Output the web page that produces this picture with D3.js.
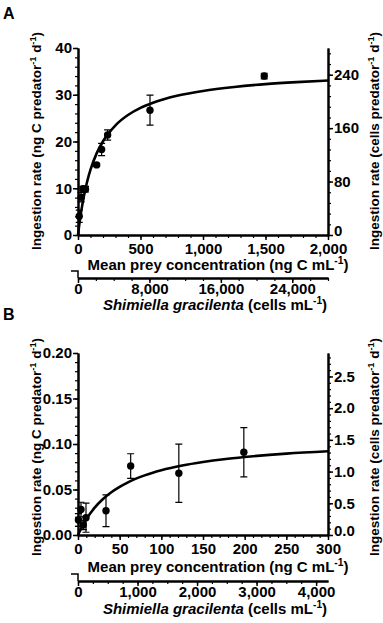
<!DOCTYPE html>
<html><head><meta charset="utf-8">
<script src="https://cdn.jsdelivr.net/npm/d3@7"></script>
<style>
html,body{margin:0;padding:0;background:#fff;}
svg{display:block;font-family:"Liberation Sans",Arial,sans-serif;}
</style></head>
<body><svg id="c" width="383" height="623"></svg>
<script>
// ---------- Panel A data ----------
const aConc = [10, 25, 40, 60, 149, 189, 237, 576, 1490];          // ng C mL-1
const aRate = [4.0, 8.1, 9.9, 9.8, 15.0, 18.3, 21.4, 26.7, 34.0];   // ng C predator-1 d-1
const aErr  = [1.3, 1.0, 0.5, 0.6, 0.3, 1.3, 1.1, 3.2, 0.6];
const aFitX = [0, 10, 25, 50, 75, 100, 150, 200, 300, 400, 500, 600, 800, 1000, 1250, 1500, 1750, 2000];
const aFitY = [0, 2.16, 4.94, 8.68, 11.61, 13.96, 17.51, 20.06, 23.47, 25.66, 27.18, 28.29, 29.82, 30.82, 31.67, 32.27, 32.70, 33.04];
const aXTicks = [0, 500, 1000, 1500, 2000];
const aYTicks = [0, 10, 20, 30, 40];
const aYRTicks = [0, 80, 160, 240];
const aX2Ticks = [0, 8000, 16000, 24000];

// ---------- Panel B data ----------
const bConc = [0.5, 3.6, 6.4, 9.6, 33.6, 63.2, 121, 199];
const bRate = [0.0165, 0.028, 0.011, 0.019, 0.0267, 0.0758, 0.0678, 0.0909];
const bErr  = [0.007, 0.008, 0.005, 0.016, 0.0175, 0.0135, 0.032, 0.027];
const bFitX = [0, 5, 10, 20, 30, 40, 50, 60, 80, 100, 125, 150, 175, 200, 250, 300];
const bFitY = [0, 0.0095, 0.0174, 0.030, 0.0395, 0.047, 0.0529, 0.0579, 0.0655, 0.0711, 0.0763, 0.0802, 0.0833, 0.0857, 0.0894, 0.0920];
const bXTicks = [0, 50, 100, 150, 200, 250, 300];
const bYTicks = [0, 0.05, 0.10, 0.15, 0.20];
const bYRTicks = [0, 0.5, 1.0, 1.5, 2.0, 2.5];
const bX2Ticks = [0, 1000, 2000, 3000, 4000];

const svg = d3.select("#c");
const fmtComma = d3.format(",");
const TICK_FS = 15;

function richText(g, x, y, parts, opts) {
  const t = g.append("text").attr("x", x).attr("y", y)
    .attr("text-anchor", "middle").attr("font-weight", "bold")
    .attr("font-size", opts.size).attr("fill", "#000");
  if (opts.rotate) t.attr("transform", `rotate(${opts.rotate},${x},${y})`);
  let shift = 0;
  parts.forEach(p => {
    const s = t.append("tspan").text(p.t);
    if (p.sup) { s.attr("font-size", opts.size * 0.68).attr("dy", -opts.size * 0.38); shift = opts.size * 0.38; }
    else { if (shift) { s.attr("dy", shift); shift = 0; } }
    if (p.it) s.attr("font-style", "italic");
  });
  return t;
}

function styleAxis(g, sw) {
  g.select(".domain").attr("stroke", "#000").attr("stroke-width", 2);
  g.selectAll(".tick line").attr("stroke", "#000").attr("stroke-width", sw || 1.5);
  g.selectAll(".tick text").attr("font-size", TICK_FS).attr("font-weight", "bold")
    .attr("font-family", "Liberation Sans, Arial, sans-serif").attr("fill", "#000");
}

function panel(c) {
  const g = svg.append("g");
  const x = d3.scaleLinear().domain(c.xDom).range([78, 328]);
  const y = d3.scaleLinear().domain(c.yDom).range([c.y0, c.yTop]);
  const yr = d3.scaleLinear().domain(c.yrDom).range([c.y0, c.yTop]);
  const x2 = d3.scaleLinear().domain(c.x2Dom).range([78, 328]);

  // minor ticks
  g.append("g").attr("transform", `translate(78,0)`)
    .call(d3.axisLeft(y).tickValues(c.yMinor).tickSize(3).tickFormat("").tickSizeOuter(0))
    .call(a => { styleAxis(a, 1.2); });
  g.append("g").attr("transform", `translate(328,0)`)
    .call(d3.axisRight(yr).tickValues(c.yrMinor).tickSize(3).tickFormat("").tickSizeOuter(0))
    .call(a => { styleAxis(a, 1.2); });
  g.append("g").attr("transform", `translate(0,${c.y0})`)
    .call(d3.axisBottom(x).tickValues(c.xMinor).tickSize(3).tickFormat("").tickSizeOuter(0))
    .call(a => { styleAxis(a, 1.2); });
  g.append("g").attr("transform", `translate(0,${c.x2y})`)
    .call(d3.axisBottom(x2).tickValues(c.x2Minor).tickSize(3).tickFormat("").tickSizeOuter(0))
    .call(a => { styleAxis(a, 1.2); });

  // major axes
  g.append("g").attr("transform", `translate(78,0)`)
    .call(d3.axisLeft(y).tickValues(c.yTicks).tickSize(5).tickPadding(1).tickFormat(c.yFmt).tickSizeOuter(0))
    .call(a => styleAxis(a));
  g.append("g").attr("transform", `translate(328,0)`)
    .call(d3.axisRight(yr).tickValues(c.yrTicks).tickSize(5).tickPadding(1).tickFormat(c.yrFmt).tickSizeOuter(0))
    .call(a => styleAxis(a))
    .call(a => a.selectAll(".tick text").filter(d => d === 0).attr("dy", "0.05em"));
  g.append("g").attr("transform", `translate(0,${c.y0})`)
    .call(d3.axisBottom(x).tickValues(c.xTicks).tickSize(5).tickPadding(3).tickFormat(fmtComma).tickSizeOuter(0))
    .call(a => styleAxis(a));
  g.append("g").attr("transform", `translate(0,${c.x2y})`)
    .call(d3.axisBottom(x2).tickValues(c.x2Ticks).tickSize(5).tickPadding(0).tickFormat(fmtComma).tickSizeOuter(0))
    .call(a => styleAxis(a));
  // little stub at start of secondary axis
  g.append("path").attr("d", `M71,${c.x2y - 7}H78V${c.x2y}`).attr("fill", "none")
    .attr("stroke", "#000").attr("stroke-width", 1.5);

  // fitted curve
  const line = d3.line().x(d => x(d[0])).y(d => y(d[1])).curve(d3.curveMonotoneX);
  g.append("path").datum(c.fitX.map((v, i) => [v, c.fitY[i]]))
    .attr("d", line).attr("fill", "none").attr("stroke", "#000").attr("stroke-width", 2.6);

  // error bars
  const pts = c.px.map((v, i) => ({ x: v, y: c.py[i], e: c.pe[i] }));
  const eb = g.append("g").attr("stroke", "#000").attr("stroke-width", 1.2).attr("fill", "none");
  pts.forEach(p => {
    const xx = x(p.x), y1 = y(p.y + p.e), y2 = y(Math.max(0, p.y - p.e));
    eb.append("path").attr("d", `M${xx},${y1}V${y2}M${xx - 3.5},${y1}H${xx + 3.5}M${xx - 3.5},${y2}H${xx + 3.5}`);
  });
  g.append("g").selectAll("circle").data(pts).join("circle")
    .attr("cx", d => x(d.x)).attr("cy", d => y(d.y)).attr("r", 3.7).attr("fill", "#000");

  // labels
  g.append("text").attr("x", 3).attr("y", c.letterY).attr("font-size", 16).attr("font-weight", "bold").text(c.letter);
  const ylab = [{ t: "Ingestion rate (ng C predator" }, { t: "-1", sup: true }, { t: " d" }, { t: "-1", sup: true }, { t: ")" }];
  const yrlab = [{ t: "Ingestion rate (cells predator" }, { t: "-1", sup: true }, { t: " d" }, { t: "-1", sup: true }, { t: ")" }];
  richText(g, 41, c.yLabY, ylab, { size: 13.5, rotate: -90 });
  richText(g, 379, c.yLabY, yrlab, { size: 13.5, rotate: -90 });
  richText(g, 218, c.xLabY, [{ t: "Mean prey concentration (ng C mL" }, { t: "-1", sup: true }, { t: ")" }], { size: 15 });
  richText(g, 215, c.x2LabY, [{ t: "Shimiella gracilenta", it: true }, { t: " (cells mL" }, { t: "-1", sup: true }, { t: ")" }], { size: 15 });
}

panel({
  letter: "A", letterY: 19,
  xDom: [0, 2000], yDom: [0, 40], yrDom: [0, 280], x2Dom: [0, 28000],
  y0: 235, yTop: 48, x2y: 278,
  xTicks: aXTicks, xMinor: d3.range(0, 2001, 100),
  yTicks: aYTicks, yMinor: d3.range(0, 41, 2), yFmt: d3.format("d"),
  yrTicks: aYRTicks, yrMinor: d3.range(0, 281, 16), yrFmt: d3.format("d"),
  x2Ticks: aX2Ticks, x2Minor: d3.range(0, 28001, 2000),
  fitX: aFitX, fitY: aFitY, px: aConc, py: aRate, pe: aErr,
  yLabY: 141, xLabY: 270, x2LabY: 310
});
panel({
  letter: "B", letterY: 320,
  xDom: [0, 300], yDom: [0, 0.2], yrDom: [0, 2.87], x2Dom: [0, 4200],
  y0: 535, yTop: 353, x2y: 581,
  xTicks: bXTicks, xMinor: d3.range(0, 301, 10),
  yTicks: bYTicks, yMinor: d3.range(0, 0.2001, 0.01), yFmt: d3.format(".2f"),
  yrTicks: bYRTicks, yrMinor: d3.range(0, 2.87, 0.1), yrFmt: d3.format(".1f"),
  x2Ticks: bX2Ticks, x2Minor: d3.range(0, 4201, 250),
  fitX: bFitX, fitY: bFitY, px: bConc, py: bRate, pe: bErr,
  yLabY: 447, xLabY: 572, x2LabY: 614
});
</script></body></html>
